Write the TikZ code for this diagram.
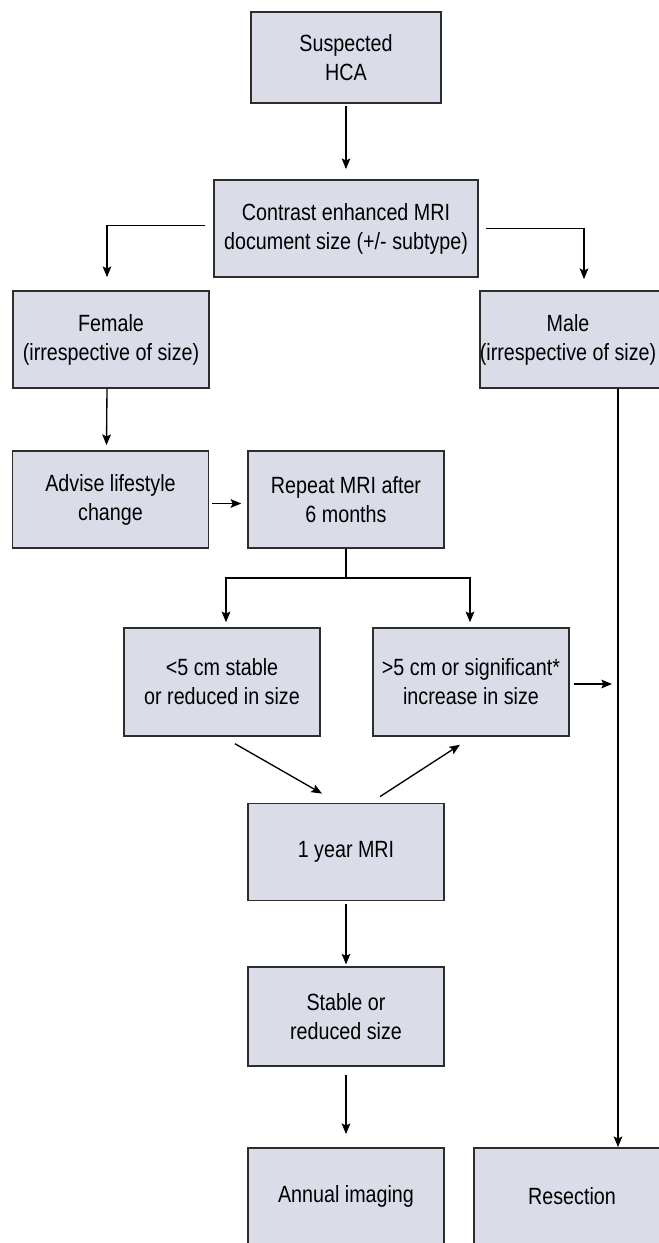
\documentclass[tikz,border=0pt]{standalone}
\usepackage{fontspec}
\setmainfont{Liberation Sans}[FakeStretch=0.84]
\usepackage{xcolor}
\usetikzlibrary{arrows.meta,calc}
\definecolor{boxfill}{RGB}{218,220,232}
\definecolor{boxline}{RGB}{45,45,45}

\begin{document}
\begin{tikzpicture}[x=0.75pt,y=0.75pt,yscale=-1,xscale=1,
  flowbox/.style={draw=boxline,line width=1.1pt,fill=boxfill,align=center,inner sep=0pt,
    minimum width=147pt,minimum height=73pt,font=\fontsize{17.6}{21.8}\selectfont},
  arr/.style={-{Stealth[length=8pt,width=6.5pt,inset=1.6pt]},line width=1pt},
  ln/.style={line width=1pt}]
\useasboundingbox (0,0) rectangle (659,1243);

% Boxes
\node[flowbox,minimum width=142.5pt,minimum height=68.25pt] (hca) at (346,57.5) {Suspected\\HCA};
\node[flowbox,minimum width=198pt] (mri) at (346,228.5) {Contrast enhanced MRI\\document size (+/- subtype)};
\node[flowbox] (female) at (111,339.5) {Female\\(irrespective of size)};
\node[flowbox,minimum width=135pt] (male) at (574,339.5) {Male\hspace*{9pt}\\(irrespective of size)\hspace*{9pt}};
\node[flowbox] (advise) at (110.5,499.5) {Advise lifestyle\\change};
\node[flowbox] (rpt) at (346,499.5) {Repeat MRI after\\6 months};
\node[flowbox,minimum height=81pt] (small) at (222,682) {\textless5 cm stable\\or reduced in size};
\node[flowbox,minimum height=81pt] (large) at (471,682) {\textgreater5 cm or significant*\\increase in size};
\node[flowbox] (year) at (346,852) {1 year MRI};
\node[flowbox,minimum height=74pt] (stable) at (346,1016.5) {Stable or\\reduced size};
\node[flowbox] (annual) at (346,1196.5) {Annual imaging};
\node[flowbox] (resect) at (572,1196.5) {Resection};

% Straight Lines
\draw[arr] ($(hca.south)+(0,2)$) -- ($(mri.north)+(0,-10)$);
\draw[arr] ($(mri.west)+(-8,-3)$) -| ($(female.north)+(-4,-13)$);
\draw[arr] ($(mri.east)+(7,0)$) -| ($(male.north)+(10,-11)$);
\draw[arr] ($(female.south)+(-4,0)$) -- ($(advise.north)+(-4,-5)$);
\draw[arr] ($(advise.east)+(3,4)$) -- ($(rpt.west)+(-6,4)$);

\coordinate (split) at ($(rpt.south)+(0,29)$);
\draw[ln] (rpt.south) -- (split);
\draw[arr] (split) -| ($(small.north)+(4,-5)$);
\draw[arr] (split) -| ($(large.north)+(-1,-5)$);

\coordinate (mtop) at ($(male.south)+(44,0)$);
\draw[arr] (mtop) -- (mtop |- resect.north);
\draw[arr] ($(large.east)+(4,2)$) -- ($(large.east -| mtop)+(-6,2)$);

\draw[arr] ($(small.south)+(13,7)$) -- ($(year.north)+(-24,-9)$);
\draw[arr] ($(year.north)+(34,-6)$) -- ($(large.south)+(-11,8)$);
\draw[arr] ($(year.south)+(0,3)$) -- ($(stable.north)+(0,-2)$);
\draw[arr] ($(stable.south)+(0,8)$) -- ($(annual.north)+(0,-13)$);

\end{tikzpicture}
\end{document}
